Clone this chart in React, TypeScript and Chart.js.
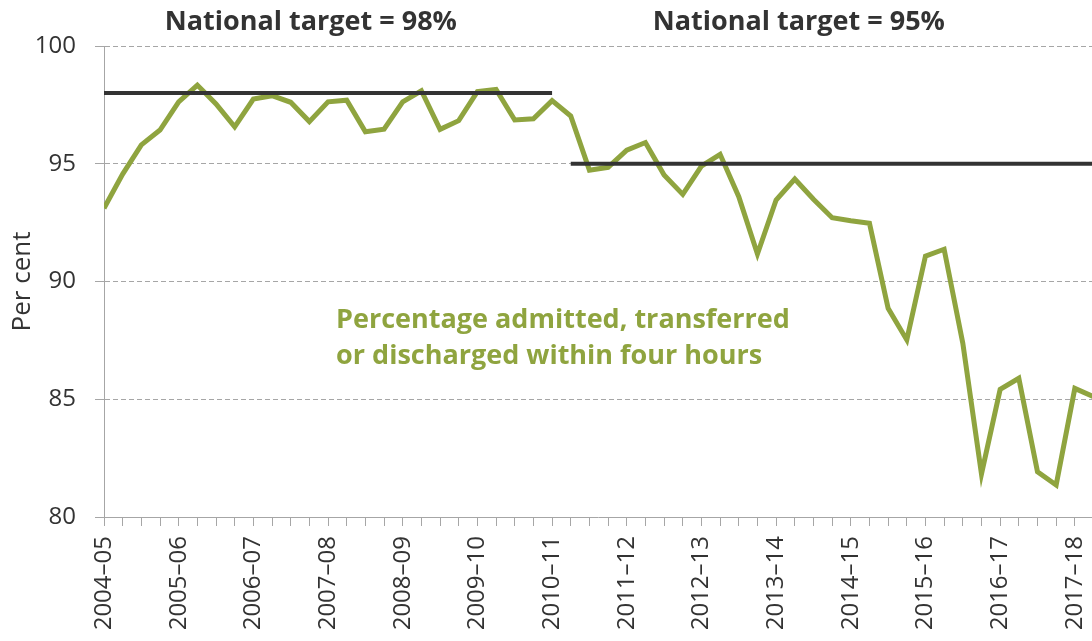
import React, { useEffect, useRef } from "react";
import { Chart, registerables } from "chart.js";

Chart.register(...registerables);

// Financial years shown on the axis (one label every four quarters)
const yearLabels = [
  "2004–05", "2005–06", "2006–07", "2007–08", "2008–09", "2009–10", "2010–11",
  "2011–12", "2012–13", "2013–14", "2014–15", "2015–16", "2016–17", "2017–18",
];

// Quarterly percentage seen within four hours (Q1 2004–05 onwards)
const fourHourPct = [
  93.11, 94.56, 95.8, 96.43, 97.63, 98.34, 97.54, 96.57, 97.75, 97.89,
  97.61, 96.79, 97.63, 97.7, 96.36, 96.47, 97.63, 98.1, 96.46, 96.83,
  98.06, 98.16, 96.86, 96.91, 97.68, 97.03, 94.73, 94.85, 95.58, 95.9,
  94.52, 93.7, 94.9, 95.4, 93.6, 91.17, 93.46, 94.35, 93.49, 92.71,
  92.58, 92.47, 88.86, 87.52, 91.08, 91.37, 87.38, 81.83, 85.42, 85.89,
  81.92, 81.36, 85.46, 85.11,
];

// National targets: [start quarter index, end quarter index, value]
const target98 = [0, 24, 98];
const target95 = [25, 54, 95];

const yTicks = [80, 85, 90, 95, 100];

const GREEN = "#8fa43f";
const DARK = "#333333";
const GRID = "#a6a6a6";
const FONT = "'Open Sans', 'Noto Sans', sans-serif";

const textPlugin = {
  id: "texts",
  afterDraw(chart: any) {
    const ctx = chart.ctx;
    const xs = chart.scales.x;
    const ys = chart.scales.y;
    ctx.save();
    // y title
    ctx.fillStyle = DARK;
    ctx.font = `26px ${FONT}`;
    ctx.textAlign = "center";
    ctx.textBaseline = "middle";
    ctx.translate(23, (chart.chartArea.top + chart.chartArea.bottom) / 2);
    ctx.rotate(-Math.PI / 2);
    ctx.fillText("Per cent", 0, 0);
    ctx.restore();

    ctx.save();
    ctx.fillStyle = DARK;
    ctx.font = `bold 27px ${FONT}`;
    ctx.textAlign = "center";
    ctx.textBaseline = "alphabetic";
    ctx.fillText("National target = 98%", xs.getPixelForValue(11.08), 29.5);
    ctx.fillText("National target = 95%", xs.getPixelForValue(37.22), 29.5);

    ctx.fillStyle = GREEN;
    ctx.font = `bold 27px ${FONT}`;
    ctx.textAlign = "left";
    const lx = xs.getPixelForValue(12.43);
    ctx.fillText("Percentage admitted, transferred", lx, ys.getPixelForValue(88.01));
    ctx.fillText("or discharged within four hours", lx, ys.getPixelForValue(86.5));
    ctx.restore();
  },
};

export default function App() {
  const ref = useRef<HTMLCanvasElement>(null);

  useEffect(() => {
    if (!ref.current) return;
    const chart = new Chart(ref.current, {
      type: "line",
      data: {
        datasets: [
          {
            data: [
              { x: target98[0], y: target98[2] },
              { x: target98[1], y: target98[2] },
            ],
            borderColor: DARK,
            borderWidth: 4,
            pointRadius: 0,
            borderCapStyle: "butt",
          },
          {
            data: [
              { x: target95[0], y: target95[2] },
              { x: target95[1], y: target95[2] },
            ],
            borderColor: DARK,
            borderWidth: 4,
            pointRadius: 0,
            borderCapStyle: "butt",
          },
          {
            data: fourHourPct.map((v, i) => ({ x: i, y: v })),
            borderColor: GREEN,
            borderWidth: 5,
            pointRadius: 0,
            tension: 0,
            borderJoinStyle: "miter",
          },
        ],
      },
      options: {
        animation: false,
        responsive: true,
        maintainAspectRatio: false,
        layout: { autoPadding: false, padding: { top: 46, left: 0, right: 0, bottom: 0 } },
        plugins: { legend: { display: false }, tooltip: { enabled: false } },
        scales: {
          x: {
            type: "linear",
            min: 0,
            max: 52.92,
            afterBuildTicks: (scale: any) => {
              const t = [];
              for (let i = 0; i <= 52; i++) t.push({ value: i });
              scale.ticks = t;
            },
            afterFit: (scale: any) => {
              scale.height = 124;
              scale.paddingLeft = 0;
              scale.paddingRight = 0;
            },
            border: { display: true, color: GRID, width: 1 },
            grid: {
              drawOnChartArea: false,
              drawTicks: true,
              tickLength: 9,
              color: GRID,
            },
            ticks: {
              autoSkip: false,
              maxRotation: 90,
              minRotation: 90,
              padding: 10,
              color: DARK,
              font: { family: FONT, size: 24 },
              callback: (v: any) => {
                const n = Number(v);
                return n % 4 === 0 ? yearLabels[n / 4] : "";
              },
            },
          },
          y: {
            min: 80,
            max: 100,
            afterBuildTicks: (scale: any) => {
              scale.ticks = yTicks.map((v) => ({ value: v }));
            },
            afterFit: (scale: any) => {
              scale.width = 104;
              scale.paddingTop = 0;
              scale.paddingBottom = 0;
            },
            border: { display: true, color: GRID, width: 1, dash: [5, 3] },
            grid: {
              color: (c: any) => (c.tick && c.tick.value === 80 ? "rgba(0,0,0,0)" : GRID),
              tickColor: GRID,
              tickLength: 9,
              tickBorderDash: [],
            } as any,
            ticks: {
              padding: 19,
              color: DARK,
              font: { family: FONT, size: 24 },
            },
          },
        },
      } as any,
      plugins: [textPlugin],
    });
    return () => chart.destroy();
  }, []);

  return (
    <div style={{ position: "fixed", left: 0, top: 0, width: 1092, height: 641, background: "#fff" }}>
      <canvas ref={ref} />
    </div>
  );
}
